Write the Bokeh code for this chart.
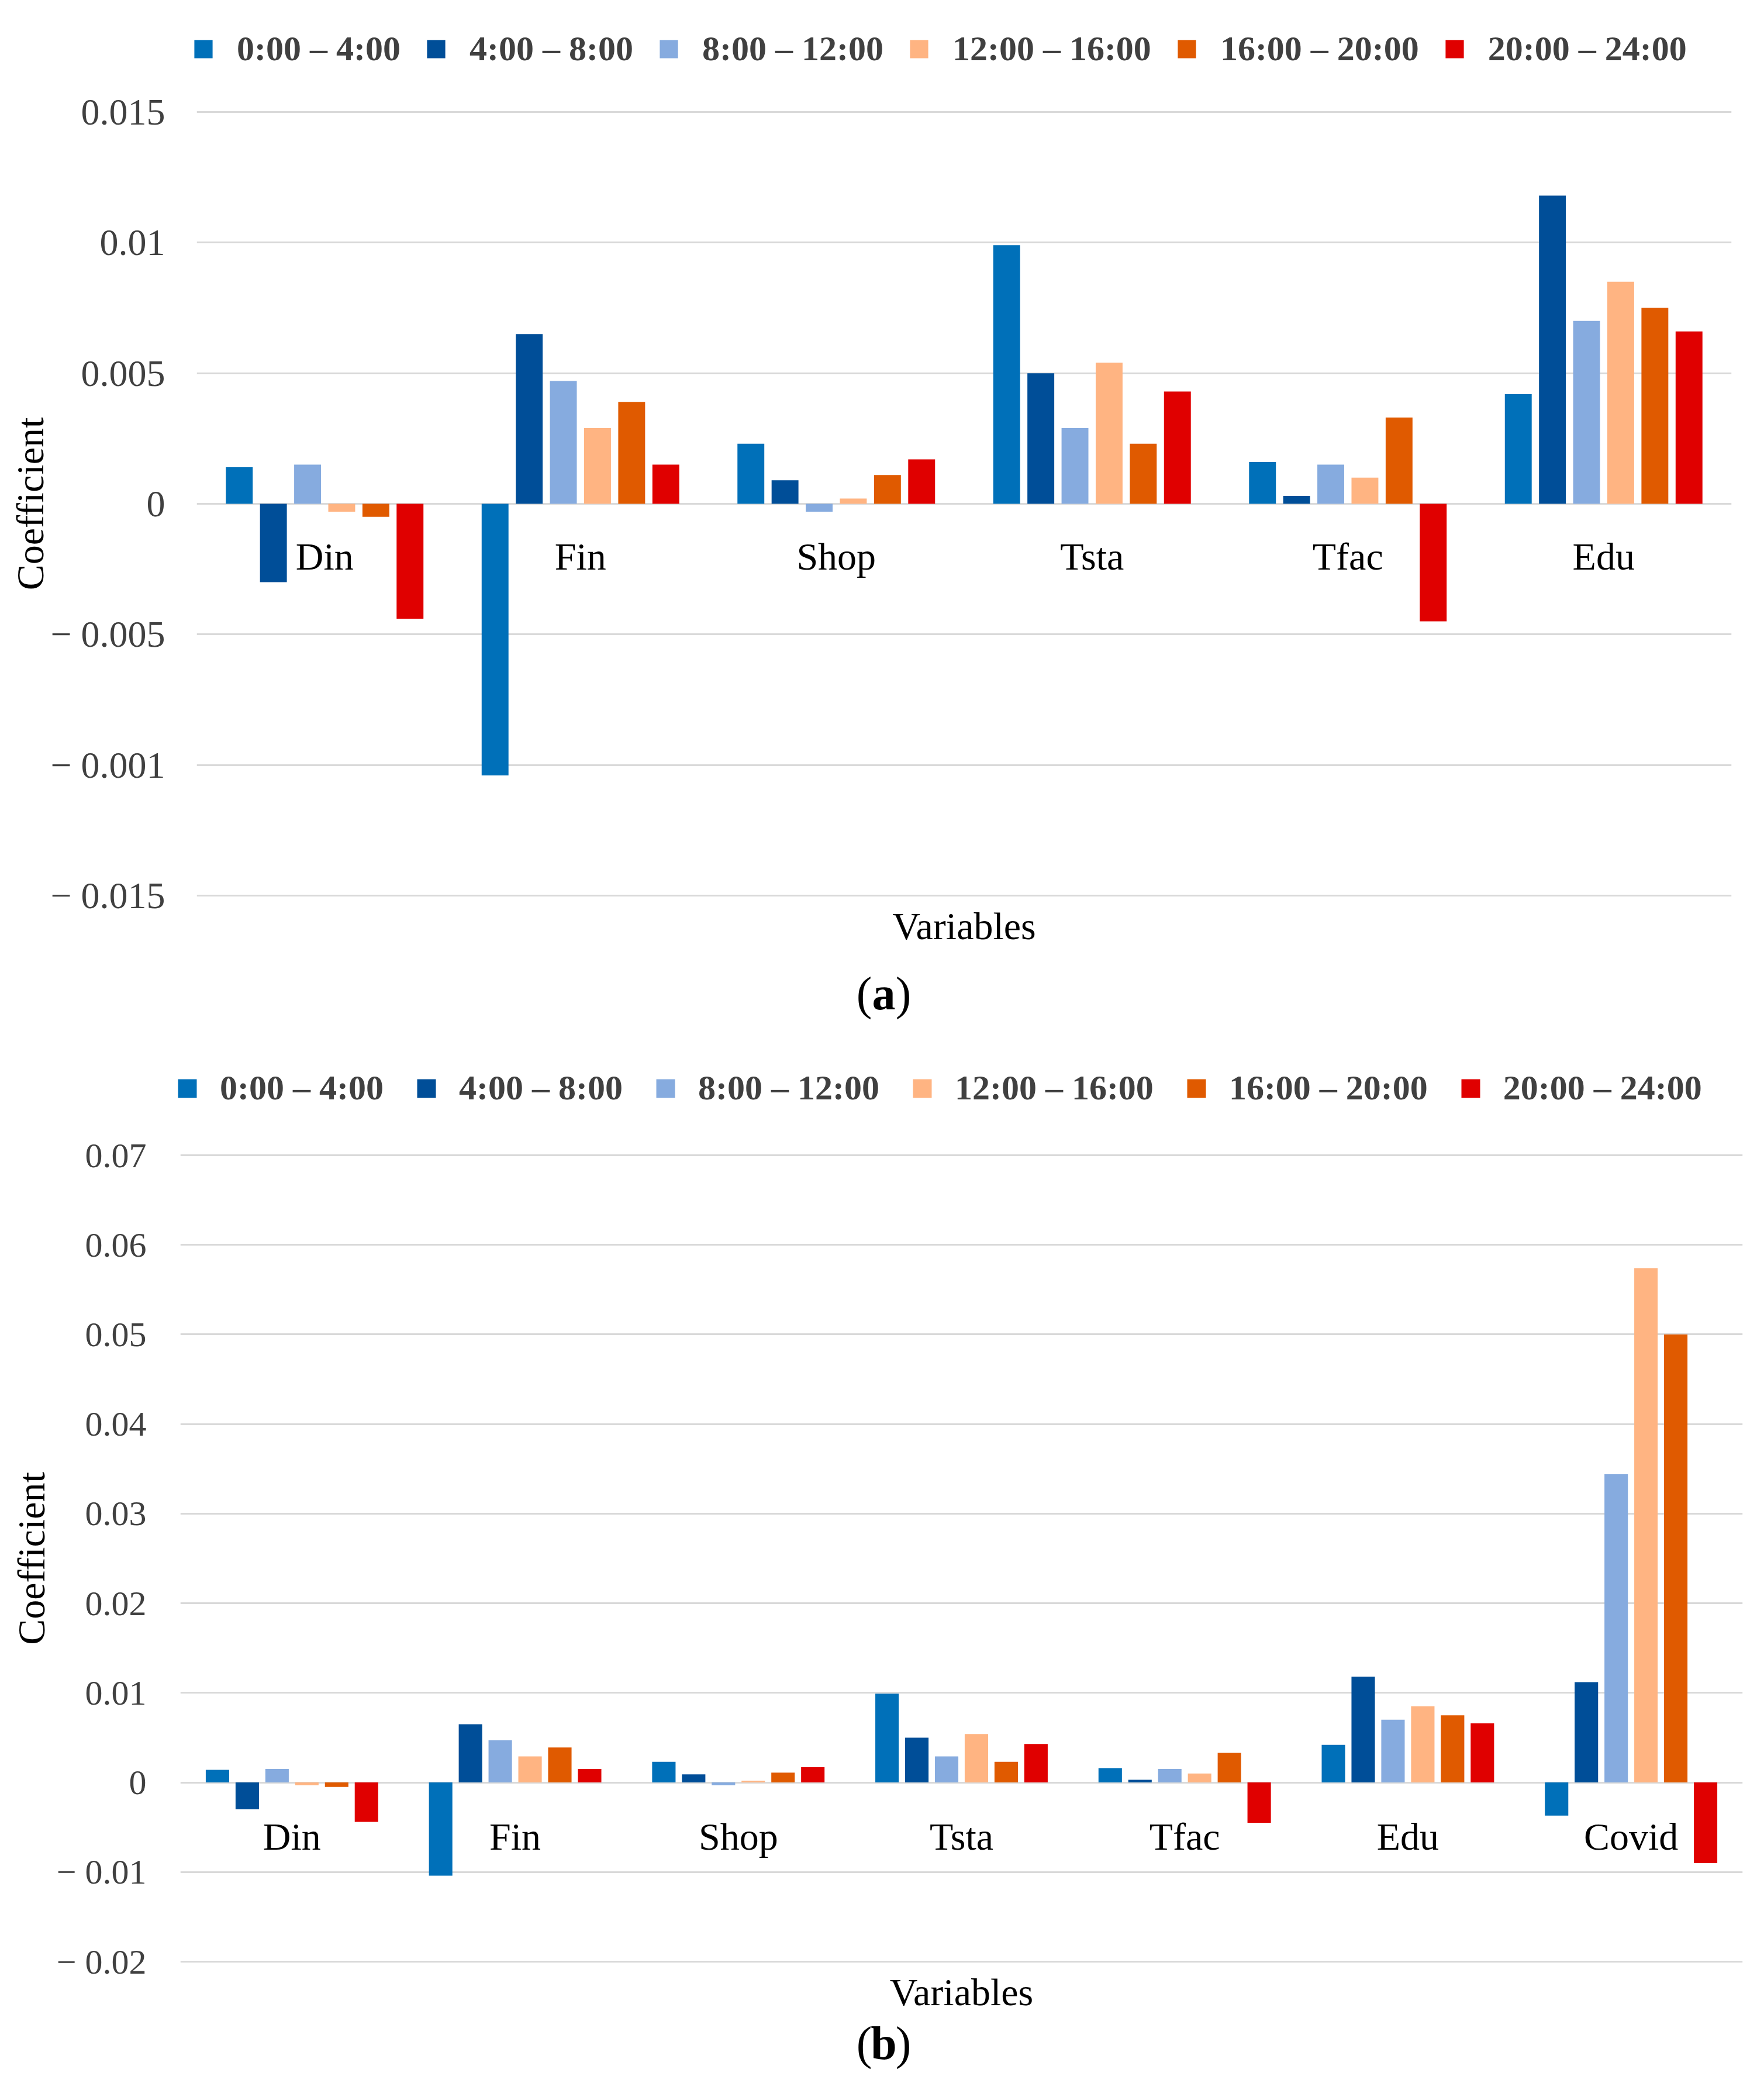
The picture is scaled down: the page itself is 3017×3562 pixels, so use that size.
from bokeh.plotting import figure
from bokeh.models import (FactorRange, Range1d, FixedTicker, Legend, LegendItem,
                          ColumnDataSource)
from bokeh.transform import dodge
from bokeh.layouts import column
from bokeh.embed import file_html
from bokeh.resources import INLINE
from bokeh.core.properties import value

# ---------------- data ----------------
series = ["0:00 – 4:00", "4:00 – 8:00", "8:00 – 12:00",
          "12:00 – 16:00", "16:00 – 20:00", "20:00 – 24:00"]
colors = ["#0070B9", "#004E98", "#86ABDF", "#FFB482", "#E05A00", "#E00000"]

cats_a = ["Din", "Fin", "Shop", "Tsta", "Tfac", "Edu"]
v_0_4 = [0.0014, -0.0104, 0.0023, 0.0099, 0.0016, 0.0042]
v_4_8 = [-0.0030, 0.0065, 0.0009, 0.0050, 0.0003, 0.0118]
v_8_12 = [0.0015, 0.0047, -0.0003, 0.0029, 0.0015, 0.0070]
v_12_16 = [-0.0003, 0.0029, 0.0002, 0.0054, 0.0010, 0.0085]
v_16_20 = [-0.0005, 0.0039, 0.0011, 0.0023, 0.0033, 0.0075]
v_20_24 = [-0.0044, 0.0015, 0.0017, 0.0043, -0.0045, 0.0066]

cats_b = cats_a + ["Covid"]
covid = [-0.0037, 0.0112, 0.0344, 0.0574, 0.0500, -0.0090]

ticks_a = [-0.015, -0.01, -0.005, 0.0, 0.005, 0.01, 0.015]
labels_a = ["− 0.015", "− 0.001", "− 0.005", "0", "0.005", "0.01", "0.015"]
ticks_b = [-0.02, -0.01, 0.0, 0.01, 0.02, 0.03, 0.04, 0.05, 0.06, 0.07]
labels_b = ["− 0.02", "− 0.01", "0", "0.01", "0.02", "0.03", "0.04", "0.05", "0.06", "0.07"]

cols_a = [v_0_4, v_4_8, v_8_12, v_12_16, v_16_20, v_20_24]
cols_b = [c + [cv] for c, cv in zip(cols_a, covid)]

FONT = "Liberation Serif"
BAR_W = 0.105
PITCH = 0.1335
W = 3017
PAD = 3  # px of frame beyond the outer gridlines so they are drawn in full


def blank_fig(height):
    f = figure(width=W, height=height, x_range=Range1d(0, W), y_range=Range1d(0, height),
               x_axis_type=None, y_axis_type=None, output_backend="svg",
               toolbar_location=None, min_border=0, frame_align=False)
    f.outline_line_color = None
    return f


def legend_fig(height, loc, standoff, spacing, glyph):
    f = blank_fig(height)
    items = []
    for name, color in zip(series, colors):
        r = f.vbar(x=[float("nan")], top=[float("nan")], width=1,
                   fill_color=color, line_color=None)
        items.append(LegendItem(label=name, renderers=[r]))
    f.add_layout(Legend(items=items, orientation="horizontal", location=loc,
                        glyph_width=glyph, glyph_height=glyph, label_height=glyph,
                        label_standoff=standoff, spacing=spacing,
                        padding=0, margin=0,
                        label_text_font=FONT, label_text_font_style="bold",
                        label_text_font_size="60px", label_text_color="#404040",
                        label_text_baseline="middle",
                        background_fill_alpha=0, border_line_alpha=0))
    return f


def tag_fig(height, letter, centre, mid):
    f = blank_fig(height)
    f.text(x=[centre - 33.5, centre + 33.5], y=[mid, mid], text=["(", ")"],
           text_font=value(FONT), text_font_size=value("80px"), text_color="black",
           text_align="center", text_baseline="middle")
    f.text(x=[centre], y=[mid], text=[letter],
           text_font=value(FONT), text_font_style="bold", text_font_size=value("80px"),
           text_color="black", text_align="center", text_baseline="middle")
    return f


def main_fig(cats, cols, ylo, yhi, tvals, tlabels, height, bl, br, bt, bb,
             tick_size, cat_off, tick_standoff, label_standoff):
    data = dict(cat=cats)
    for i, c in enumerate(cols):
        data["s%d" % i] = c
    src = ColumnDataSource(data)
    frame_h = height - bt - bb
    unit = (yhi - ylo) / frame_h
    p = figure(width=W, height=height + 2 * PAD,
               x_range=FactorRange(factors=cats, range_padding=0, factor_padding=0),
               y_range=Range1d(ylo - PAD * unit, yhi + PAD * unit),
               output_backend="svg", toolbar_location=None, frame_align=False,
               min_border_left=bl, min_border_right=br,
               min_border_top=bt - PAD, min_border_bottom=bb - PAD)
    p.height = height
    p.outline_line_color = None

    for i, color in enumerate(colors):
        off = (i - 2.5) * PITCH
        p.vbar(x=dodge("cat", off, range=p.x_range), top="s%d" % i, bottom=0,
               width=BAR_W, source=src, fill_color=color, line_color=None)

    # category labels just below the zero line
    p.text(x="cat", y=0, text="cat", source=src, text_font=value(FONT),
           text_font_size=value("66px"), text_color="black",
           text_align="center", text_baseline="middle", y_offset=cat_off)

    # y axis
    p.yaxis.ticker = FixedTicker(ticks=tvals)
    p.yaxis.major_label_overrides = {v: t for v, t in zip(tvals, tlabels)}
    p.yaxis.axis_line_color = None
    p.yaxis.major_tick_line_color = None
    p.yaxis.minor_tick_line_color = None
    p.yaxis.major_tick_out = 0
    p.yaxis.major_tick_in = 0
    p.yaxis.major_label_standoff = tick_standoff
    p.yaxis.major_label_text_font = FONT
    p.yaxis.major_label_text_font_size = tick_size
    p.yaxis.major_label_text_color = "#404040"
    p.yaxis.axis_label = "Coefficient"
    p.yaxis.axis_label_text_font = FONT
    p.yaxis.axis_label_text_font_style = "normal"
    p.yaxis.axis_label_text_font_size = "66px"
    p.yaxis.axis_label_text_color = "black"
    p.yaxis.axis_label_standoff = label_standoff

    p.ygrid.ticker = FixedTicker(ticks=tvals)
    p.ygrid.grid_line_color = "#D9D9D9"
    p.ygrid.grid_line_width = 3
    p.xgrid.grid_line_color = None

    # x axis: only the title
    p.xaxis.ticker = FixedTicker(ticks=[])
    p.xaxis.axis_line_color = None
    p.xaxis.major_tick_line_color = None
    p.xaxis.minor_tick_line_color = None
    p.xaxis.major_tick_out = 0
    p.xaxis.major_label_standoff = 0
    p.xaxis.axis_label = "Variables"
    p.xaxis.axis_label_text_font = FONT
    p.xaxis.axis_label_text_font_style = "normal"
    p.xaxis.axis_label_text_font_size = "66px"
    p.xaxis.axis_label_text_color = "black"
    p.xaxis.axis_label_standoff = 15 - PAD
    return p


head_a = legend_fig(150, (328, 32), 38, 41, 39)
pa = main_fig(cats_a, cols_a, -0.015, 0.015, ticks_a, labels_a, 1490,
              336, 56, 41, 109, "64px", 90, 54, -5)
tag_a = tag_fig(135, "a", 1511, 77)

head_b = legend_fig(155, (300, 35), 36, 53, 40)
pb = main_fig(cats_b, cols_b, -0.02, 0.07, ticks_b, labels_b, 1515,
              308, 37, 45, 91, "60px", 92, 58, 4)
tag_b = tag_fig(115, "b", 1511, 67)

layout = column(head_a, pa, tag_a, head_b, pb, tag_b, spacing=0)
open("out.html", "w").write(file_html(layout, INLINE))
